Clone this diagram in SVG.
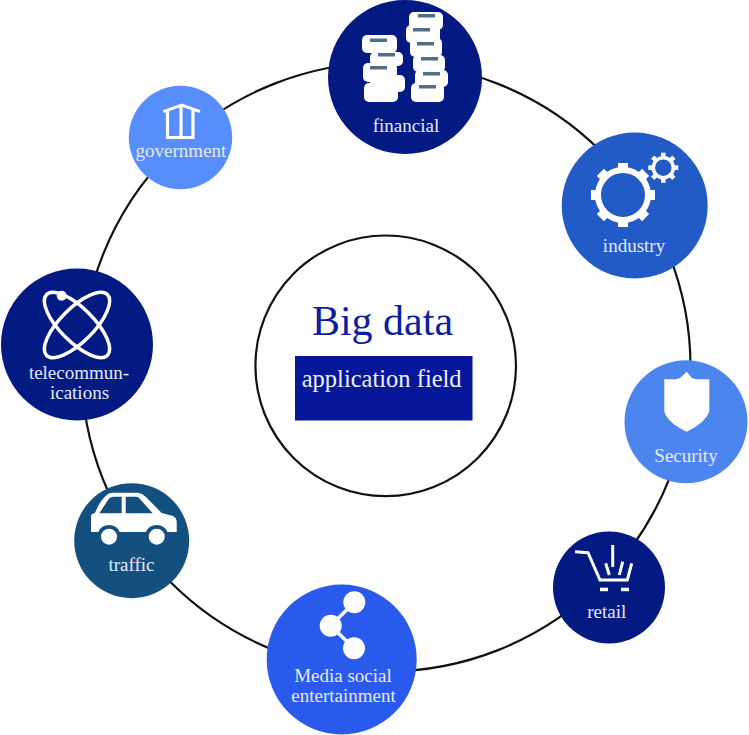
<svg xmlns="http://www.w3.org/2000/svg" width="749" height="735" viewBox="0 0 749 735">
<style>
.lbl{font-family:"Liberation Serif","Times New Roman",serif;fill:#e6eaf8;text-anchor:middle;font-size:19px}
.ic{fill:#fff}
.ol{fill:none;stroke:#fff}
.bar{fill:#4f6f86}
.ring{fill:none;stroke:#111;stroke-width:2.2}
</style>
<rect width="749" height="735" fill="#fff"/>
<g id="connectors">
<circle class="ring" cx="386" cy="367" r="304.500"/>
</g>
<g id="center">
<circle cx="385.700" cy="365.800" r="130.300" fill="#fff" stroke="#111" stroke-width="2.2"/>
<text x="382.500" y="335" font-family="Liberation Serif,serif" font-size="42" fill="#0a1fa0" text-anchor="middle">Big data</text>
<rect x="295" y="356" width="177.500" height="64.500" fill="#06179a"/>
<text x="381.700" y="387" font-family="Liberation Serif,serif" font-size="24.500" fill="#eef0fa" text-anchor="middle">application field</text>
</g>
<g id="financial">
<circle cx="405" cy="77" r="77" fill="#021a82"/>
<g class="ic">
<rect x="372" y="40" width="22" height="58"/>
<rect x="418" y="16" width="20" height="82"/>
<rect x="362" y="35" width="35" height="18" rx="5"/>
<rect x="370" y="52" width="33" height="14" rx="5"/>
<rect x="363" y="63" width="34" height="19" rx="5"/>
<rect x="370" y="75" width="35" height="17" rx="5"/>
<rect x="364" y="83" width="34" height="19" rx="5"/>
<rect x="409" y="12" width="34" height="18" rx="5"/>
<rect x="406" y="25" width="34" height="18" rx="5"/>
<rect x="410" y="38" width="32" height="19" rx="5"/>
<rect x="413" y="55" width="32" height="17" rx="5"/>
<rect x="415" y="70" width="33" height="17" rx="5"/>
<rect x="411" y="83" width="33" height="19" rx="5"/>
</g>
<rect class="bar" x="370" y="38.500" width="17" height="3.500"/><rect class="bar" x="378" y="53" width="17" height="3.500"/><rect class="bar" x="370" y="66" width="17" height="3.500"/>
<rect class="bar" x="418" y="14" width="17" height="3.500"/><rect class="bar" x="413" y="28" width="17" height="3.500"/><rect class="bar" x="417" y="42" width="17" height="3.500"/><rect class="bar" x="421" y="57" width="17" height="3.500"/><rect class="bar" x="423" y="72" width="17" height="3.500"/><rect class="bar" x="419" y="85" width="17" height="3.500"/>
<text class="lbl" x="406" y="131.500">financial</text>
</g>
<g id="industry">
<circle cx="634.700" cy="205.500" r="73" fill="#225ac6"/>
<g class="ol">
<circle cx="623" cy="195" r="25" stroke-width="6"/>
<circle cx="663.300" cy="167.700" r="10" stroke-width="3.500"/>
</g>
<g class="ic">
<rect x="618" y="163" width="10" height="8"/><rect x="618" y="219" width="10" height="8"/><rect x="591" y="190" width="8" height="10"/><rect x="647" y="190" width="8" height="10"/>
<rect x="618" y="163" width="10" height="8" transform="rotate(45 623 195)"/><rect x="618" y="163" width="10" height="8" transform="rotate(135 623 195)"/><rect x="618" y="163" width="10" height="8" transform="rotate(225 623 195)"/><rect x="618" y="163" width="10" height="8" transform="rotate(315 623 195)"/>
<rect x="661" y="152.700" width="4.600" height="4"/><rect x="661" y="178.700" width="4.600" height="4"/><rect x="648.300" y="165.400" width="4" height="4.600"/><rect x="674.300" y="165.400" width="4" height="4.600"/>
<rect x="661" y="152.700" width="4.600" height="4" transform="rotate(45 663.300 167.700)"/><rect x="661" y="152.700" width="4.600" height="4" transform="rotate(135 663.300 167.700)"/><rect x="661" y="152.700" width="4.600" height="4" transform="rotate(225 663.300 167.700)"/><rect x="661" y="152.700" width="4.600" height="4" transform="rotate(315 663.300 167.700)"/>
</g>
<text class="lbl" x="634" y="252">industry</text>
</g>
<g id="security">
<circle cx="686" cy="421.700" r="61.500" fill="#4d85ee"/>
<path class="ic" d="M686.700 371.700L680 378L676 379.300H664.300V411.700Q668 423 686.700 431.700Q705 423 709.300 411.700V379.300H696L692 378Z"/>
<text class="lbl" x="686" y="462">Security</text>
</g>
<g id="retail">
<circle cx="609" cy="587.500" r="56" fill="#021a82"/>
<g class="ol" stroke-width="3">
<path d="M575 551.700L588 552.700L600 580H627.300L631.700 563.300"/>
<path d="M612.700 545V567M605.700 563.300L609.300 575M622.700 561.700L619.300 575"/>
</g>
<rect class="ic" x="600" y="587.700" width="8" height="3.500"/><rect class="ic" x="621" y="587.700" width="8" height="3.500"/>
<text class="lbl" x="606.700" y="617.500">retail</text>
</g>
<g id="media">
<circle cx="341.700" cy="659.500" r="75" fill="#2a5aec"/>
<circle class="ic" cx="354.300" cy="602.300" r="11"/><circle class="ic" cx="330.700" cy="625.700" r="11"/><circle class="ic" cx="354" cy="648.300" r="11"/>
<path class="ol" stroke-width="3.500" d="M354.300 602.300L330.700 625.700L354 648.300"/>
<text class="lbl" x="343" y="681.700">Media social</text>
<text class="lbl" x="343.500" y="702">entertainment</text>
</g>
<g id="traffic">
<circle cx="131.700" cy="540.700" r="57.500" fill="#13507f"/>
<path class="ic" fill-rule="evenodd" d="M91 532V516Q91 514 95 513Q100 500 108 494Q110 492.700 114 492.700H138Q142 493 146 497L161.700 513L173 516Q176.700 518 176.700 522V532H167.400A11.700 11.700 0 0 0 146 532H119.700A11.700 11.700 0 0 0 98.300 532ZM99.300 513.300H121.700V496.700H114Q110 496.700 108 500ZM125.700 496.700V513.300H152.700L139 498Q138 496.700 136 496.700Z"/>
<circle class="ic" cx="109" cy="536.700" r="8"/><circle class="ic" cx="156.700" cy="536.700" r="8"/>
<text class="lbl" x="131.500" y="570.700">traffic</text>
</g>
<g id="telecommunications">
<circle cx="77" cy="344.500" r="76" fill="#021a82"/>
<g class="ol" stroke-width="3.500">
<ellipse cx="77" cy="325" rx="43" ry="16.700" transform="rotate(45 77 325)"/>
<ellipse cx="77" cy="325" rx="43" ry="16.700" transform="rotate(-45 77 325)"/>
</g>
<circle class="ic" cx="61.700" cy="295.700" r="5"/>
<text class="lbl" x="79" y="379">telecommun-</text>
<text class="lbl" x="79.500" y="399">ications</text>
</g>
<g id="government">
<circle cx="180.500" cy="137.500" r="51.700" fill="#588efc"/>
<path class="ol" stroke-width="3" d="M163.300 111.700L181.700 105L200 111.700"/>
<path class="ol" stroke-width="3.200" d="M167.500 109V137.500H193V109M181 106V137"/>
<text class="lbl" x="181" y="157">government</text>
</g>
</svg>
